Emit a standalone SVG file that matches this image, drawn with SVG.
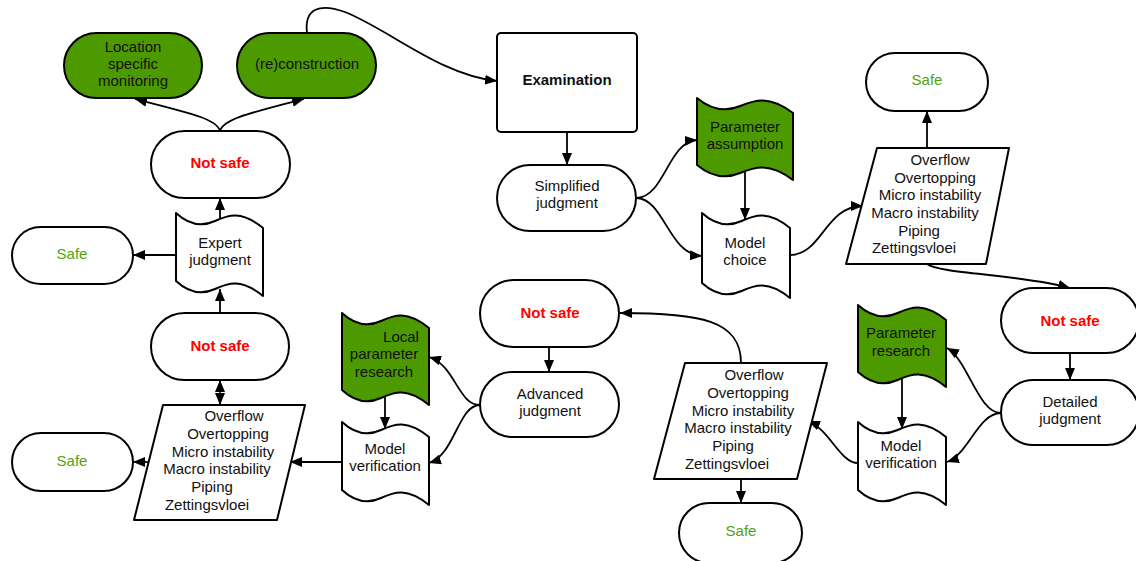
<svg xmlns="http://www.w3.org/2000/svg" width="1136" height="561" viewBox="0 0 1136 561">
  <style>
    .n { stroke: #000; stroke-width: 2; fill: #fff; stroke-linejoin: round; }
    .g { fill: #4d9900; }
    .t { font-family: "Liberation Sans", Arial, sans-serif; font-size: 15px; text-anchor: middle; fill: #111; }
    .b { font-weight: bold; }
    .red { fill: #ff0000; font-weight: bold; }
    .safe { fill: #52a312; }
    .c { fill: none; stroke: #000; stroke-width: 1.8; marker-end: url(#ah); }
  </style>
  <defs>
    <marker id="ah" viewBox="0 0 12 10" refX="12" refY="5" markerWidth="12" markerHeight="10" markerUnits="userSpaceOnUse" orient="auto">
      <path d="M0,0 L12,5 L0,10 Z" fill="#000"/>
    </marker>
  </defs>

  <rect width="1136" height="561" fill="#fff"/>

  <!-- connectors -->
  <g id="connectors">
    <path class="c" d="M220,131 C217,119 190,113 135,99"/>
    <path class="c" d="M220,131 C223,119 250,113 304,99"/>
    <path class="c" d="M307,33 C304,8 320,3 345,12 C390,30 440,75 497,81"/>
    <path class="c" d="M567,132 V165"/>
    <path class="c" d="M637,198 C665,196 668,142 697,140"/>
    <path class="c" d="M637,198 C665,200 668,254 702,256"/>
    <path class="c" d="M745,172 V220"/>
    <path class="c" d="M790,255 C822,255 825,206 863,206"/>
    <path class="c" d="M927,148 V111"/>
    <path class="c" d="M927,264 C940,274 1020,274 1070,288"/>
    <path class="c" d="M1070,353 V380"/>
    <path class="c" d="M1001,413 C978,413 968,360 947,348"/>
    <path class="c" d="M1001,413 C978,413 968,455 947,462"/>
    <path class="c" d="M902,379 V429"/>
    <path class="c" d="M858,463 C840,463 830,430 808,421"/>
    <path class="c" d="M741,363 C741,320 700,313 620,313"/>
    <path class="c" d="M741,479 V503"/>
    <path class="c" d="M549,347 V372"/>
    <path class="c" d="M480,405 C458,405 455,365 429,357"/>
    <path class="c" d="M480,405 C458,405 455,455 429,463"/>
    <path class="c" d="M385,397 V429"/>
    <path class="c" d="M342,462 H290"/>
    <path class="c" d="M149,462 H133"/>
    <path class="c" d="M220,392.5 V380"/>
    <path class="c" d="M220,392.5 V405"/>
    <path class="c" d="M220,313 V289"/>
    <path class="c" d="M220,221 V198"/>
    <path class="c" d="M176,255 H133"/>
  </g>

  <!-- top-left: outcomes -->
  <g id="location-monitoring">
    <rect class="n g" x="64" y="33" width="138" height="65" rx="32.5"/>
    <text class="t" x="133" y="52">Location</text>
    <text class="t" x="133" y="69">specific</text>
    <text class="t" x="133" y="86">monitoring</text>
  </g>
  <g id="reconstruction">
    <rect class="n g" x="237" y="33" width="139" height="65" rx="32.5"/>
    <text class="t" x="307" y="69">(re)construction</text>
  </g>
  <g id="not-safe-1">
    <rect class="n" x="151" y="131" width="139" height="67" rx="33.5"/>
    <text class="t red" x="220" y="168">Not safe</text>
  </g>
  <g id="expert-judgment">
    <path class="n" transform="translate(176,213)" d="M0,0 C13,12 26,14 39,8 C52,2 65,-3 87,15 L87,83 C65,65 52,70 39,76 C26,82 13,80 0,68 Z"/>
    <text class="t" x="220" y="248">Expert</text>
    <text class="t" x="220" y="265">judgment</text>
  </g>
  <g id="safe-1">
    <rect class="n" x="12" y="227" width="121" height="57" rx="28.5"/>
    <text class="t safe" x="72" y="259">Safe</text>
  </g>
  <g id="not-safe-2">
    <rect class="n" x="151" y="313" width="138" height="67" rx="33.5"/>
    <text class="t red" x="220" y="351">Not safe</text>
  </g>
  <g id="mechanisms-3">
    <polygon class="n" points="163,405 305,405 277,520 134,520"/>
    <text class="t" x="234" y="421">Overflow</text>
    <text class="t" x="228" y="439">Overtopping</text>
    <text class="t" x="223" y="457">Micro instability</text>
    <text class="t" x="217" y="474">Macro instability</text>
    <text class="t" x="212" y="492">Piping</text>
    <text class="t" x="207" y="510">Zettingsvloei</text>
  </g>
  <g id="safe-4">
    <rect class="n" x="12" y="433" width="121" height="58" rx="29"/>
    <text class="t safe" x="72" y="466">Safe</text>
  </g>
  <g id="local-parameter-research">
    <path class="n g" transform="translate(342,313)" d="M0,0 C13,12 26,14 39,8 C52,2 65,-3 87,15 L87,92 C65,74 52,79 39,85 C26,91 13,89 0,77 Z"/>
    <text class="t" x="401" y="342">Local</text>
    <text class="t" x="384" y="359">parameter</text>
    <text class="t" x="384" y="377">research</text>
  </g>
  <g id="model-verification-1">
    <path class="n" transform="translate(342,422)" d="M0,0 C13,12 26,14 39,8 C52,2 65,-3 87,15 L87,83 C65,65 52,70 39,76 C26,82 13,80 0,68 Z"/>
    <text class="t" x="385" y="454">Model</text>
    <text class="t" x="385" y="471">verification</text>
  </g>

  <!-- centre column -->
  <g id="examination">
    <rect class="n" x="497" y="33" width="140" height="99" rx="4"/>
    <text class="t b" x="567" y="85">Examination</text>
  </g>
  <g id="simplified-judgment">
    <rect class="n" x="497" y="165" width="139" height="66" rx="33"/>
    <text class="t" x="567" y="191">Simplified</text>
    <text class="t" x="567" y="208">judgment</text>
  </g>
  <g id="parameter-assumption">
    <path class="n g" transform="translate(697,98)" d="M0,0 C14.4,12 28.8,14 43.2,8 C57.6,2 72,-3 96,15 L96,82 C72,64 57.6,69 43.2,75 C28.8,81 14.4,79 0,67 Z"/>
    <text class="t" x="745" y="132">Parameter</text>
    <text class="t" x="745" y="149">assumption</text>
  </g>
  <g id="model-choice">
    <path class="n" transform="translate(702,213)" d="M0,0 C13.2,12 26.4,14 39.6,8 C52.8,2 66,-3 88,15 L88,85 C66,67 52.8,72 39.6,78 C26.4,84 13.2,82 0,70 Z"/>
    <text class="t" x="745" y="248">Model</text>
    <text class="t" x="745" y="265">choice</text>
  </g>
  <g id="not-safe-3">
    <rect class="n" x="480" y="280" width="139" height="67" rx="33.5"/>
    <text class="t red" x="550" y="318">Not safe</text>
  </g>
  <g id="advanced-judgment">
    <rect class="n" x="480" y="372" width="139" height="65" rx="32.5"/>
    <text class="t" x="550" y="399">Advanced</text>
    <text class="t" x="550" y="416">judgment</text>
  </g>
  <g id="mechanisms-2">
    <polygon class="n" points="685,363 827,363 797,479 654,479"/>
    <text class="t" x="754" y="380">Overflow</text>
    <text class="t" x="748" y="398">Overtopping</text>
    <text class="t" x="743" y="416">Micro instability</text>
    <text class="t" x="738" y="433">Macro instability</text>
    <text class="t" x="733" y="451">Piping</text>
    <text class="t" x="727" y="469">Zettingsvloei</text>
  </g>
  <g id="safe-3">
    <rect class="n" x="679" y="503" width="123" height="60" rx="30"/>
    <text class="t safe" x="741" y="536">Safe</text>
  </g>

  <!-- right column -->
  <g id="safe-2">
    <rect class="n" x="866" y="53" width="122" height="58" rx="29"/>
    <text class="t safe" x="927" y="85">Safe</text>
  </g>
  <g id="mechanisms-1">
    <polygon class="n" points="877,148 1009,148 986,264 846,264"/>
    <text class="t" x="940" y="165">Overflow</text>
    <text class="t" x="935" y="183">Overtopping</text>
    <text class="t" x="930" y="200">Micro instability</text>
    <text class="t" x="925" y="218">Macro instability</text>
    <text class="t" x="919" y="236">Piping</text>
    <text class="t" x="914" y="253">Zettingsvloei</text>
  </g>
  <g id="not-safe-4">
    <rect class="n" x="1001" y="288" width="138" height="65" rx="32.5"/>
    <text class="t red" x="1070" y="326">Not safe</text>
  </g>
  <g id="detailed-judgment">
    <rect class="n" x="1001" y="380" width="138" height="65" rx="32.5"/>
    <text class="t" x="1070" y="407">Detailed</text>
    <text class="t" x="1070" y="424">judgment</text>
  </g>
  <g id="parameter-research">
    <path class="n g" transform="translate(858,305)" d="M0,0 C13.2,12 26.4,14 39.6,8 C52.8,2 66,-3 88,15 L88,82 C66,64 52.8,69 39.6,75 C26.4,81 13.2,79 0,67 Z"/>
    <text class="t" x="901" y="338">Parameter</text>
    <text class="t" x="901" y="356">research</text>
  </g>
  <g id="model-verification-2">
    <path class="n" transform="translate(858,422)" d="M0,0 C13.2,12 26.4,14 39.6,8 C52.8,2 66,-3 88,15 L88,83 C66,65 52.8,70 39.6,76 C26.4,82 13.2,80 0,68 Z"/>
    <text class="t" x="901" y="451">Model</text>
    <text class="t" x="901" y="468">verification</text>
  </g>
</svg>
